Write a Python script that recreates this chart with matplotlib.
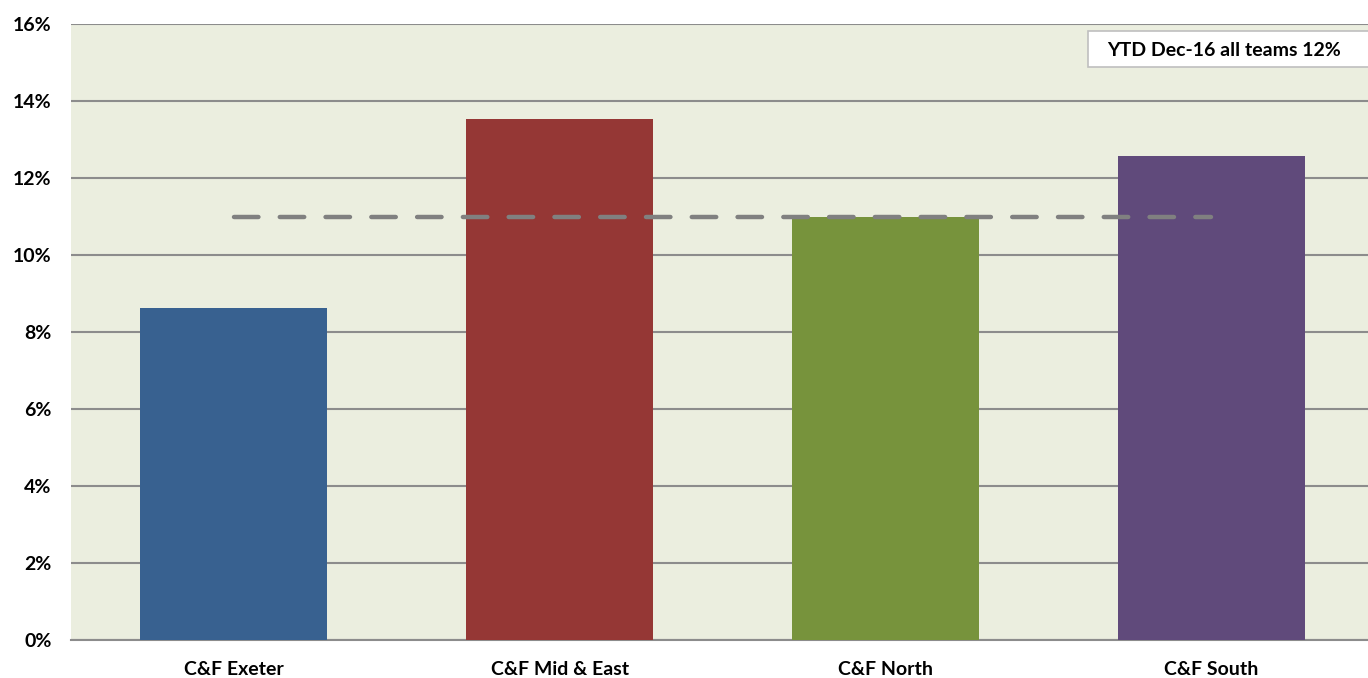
import matplotlib
matplotlib.use("Agg")
import matplotlib.pyplot as plt
from matplotlib.patches import Rectangle
from matplotlib.ticker import FuncFormatter

categories = ["C&F Exeter", "C&F Mid & East", "C&F North", "C&F South"]
values = [8.62, 13.53, 10.99, 12.56]
target = 11.0
colors = ["#386190", "#953735", "#77933C", "#604A7B"]
yticks = [0, 2, 4, 6, 8, 10, 12, 14, 16]
box_text = "YTD Dec-16 all teams 12%"

plt.rcParams['font.family'] = ['Lato', 'DejaVu Sans']

W, H = 1368, 678
fig = plt.figure(figsize=(W / 100, H / 100), dpi=100)
ax = fig.add_axes([71 / W, (H - 640) / H, (1374 - 71) / W, 616 / H])
ax.set_facecolor("#EBEEDF")

x = list(range(len(categories)))
ax.bar(x, values, width=0.574, color=colors, zorder=3)
ax.plot([x[0], x[-1]], [target, target], color="#808080", lw=3.2,
        dashes=(5.5, 4.8), dash_capstyle="round", zorder=4)

ax.set_xlim(-0.5, len(categories) - 0.5)
ax.set_ylim(0, 16)
ax.set_yticks(yticks)
ax.yaxis.set_major_formatter(FuncFormatter(lambda v, p: f"{v:.0f}%"))
ax.set_xticks(x)
ax.set_xticklabels(categories)
ax.grid(axis="y", color="#8C8C8C", lw=1.5, zorder=1)
for s in ["left", "right", "top"]:
    ax.spines[s].set_visible(False)
ax.spines["bottom"].set_color("#8C8C8C")
ax.spines["bottom"].set_linewidth(1.5)
ax.tick_params(length=0)
ax.tick_params(axis="y", pad=14, labelsize=14)
ax.tick_params(axis="x", pad=15, labelsize=14)
for lab in ax.get_xticklabels() + ax.get_yticklabels():
    lab.set_fontweight("bold")

fig.patches.append(Rectangle((1088 / W, (H - 67) / H), 300 / W, 36 / H,
                             transform=fig.transFigure, facecolor="white",
                             edgecolor="#BFBFBF", lw=1.2, zorder=5))
fig.text(1224 / W, (H - 50) / H, box_text, ha="center", va="center",
         fontsize=14, fontweight="bold", zorder=6)

fig.savefig("out.png", dpi=100)
